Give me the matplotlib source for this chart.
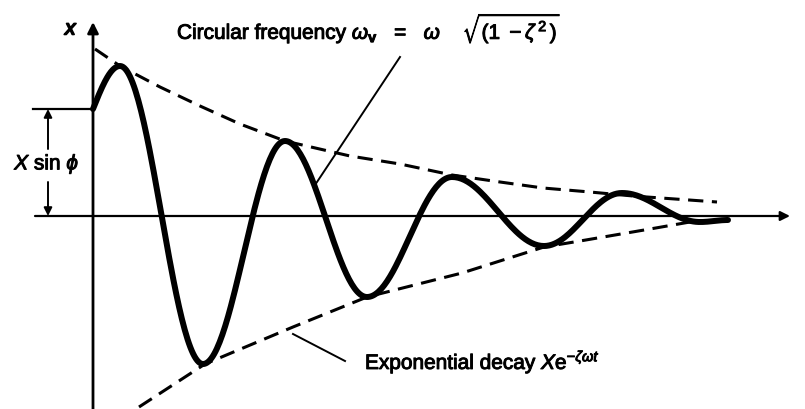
import numpy as np
import matplotlib
matplotlib.use('Agg')
import matplotlib.pyplot as plt
import matplotlib.patheffects as pe

plt.rcParams['font.family'] = ['Liberation Sans', 'DejaVu Sans']
plt.rcParams['mathtext.fontset'] = 'custom'
plt.rcParams['mathtext.rm'] = 'Liberation Sans'
plt.rcParams['mathtext.it'] = 'Liberation Sans:italic'
plt.rcParams['mathtext.bf'] = 'Liberation Sans:bold'

# displacement curve: start value, then alternating peaks and troughs
curve_t = [0.0, 0.27, 1.10, 1.92, 2.74, 3.59, 4.51, 5.29, 6.07, 6.35]
curve_x = [1.07, 1.50, -1.48, 0.75, -0.81, 0.39, -0.30, 0.23, -0.06, -0.04]

# upper and lower decay envelopes
upper_t = [0.02, 0.27, 0.67, 1.07, 1.47, 1.92, 2.57, 3.07, 3.59, 4.07, 4.50, 4.97, 5.40, 6.24]
upper_x = [1.67, 1.50, 1.29, 1.10, 0.92, 0.75, 0.60, 0.52, 0.41, 0.34, 0.28, 0.24, 0.20, 0.14]
lower_t = [0.46, 1.12, 2.00, 2.74, 3.69, 4.51, 4.87, 5.57, 5.97, 6.37]
lower_x = [-1.91, -1.48, -1.11, -0.81, -0.57, -0.31, -0.25, -0.13, -0.06, -0.04]


def smooth_curve(ts, xs, n=60):
    # quarter sine up to the first peak, half cosines between extremes
    out_t, out_x = [], []
    for i in range(len(ts) - 1):
        s = np.linspace(0, 1, n)
        if i == 0:
            w = np.sin(np.pi / 2 * s)
        else:
            w = (1 - np.cos(np.pi * s)) / 2
        out_t.extend(ts[i] + (ts[i + 1] - ts[i]) * s)
        out_x.extend(xs[i] + (xs[i + 1] - xs[i]) * w)
    return np.array(out_t), np.array(out_x)


heavy = [pe.withStroke(linewidth=0.7, foreground='black')]

fig = plt.figure(figsize=(8.05, 4.10), dpi=100)
ax = fig.add_axes([0, 0, 1, 1])
ax.set_xlim(-0.93, 7.12)
ax.set_ylim(-1.93, 2.17)
ax.axis('off')

# axes with arrow heads
ax.annotate('', xy=(6.97, 0), xytext=(-0.58, 0),
            arrowprops=dict(arrowstyle='-|>', lw=1.6, color='black',
                            mutation_scale=14, shrinkA=0, shrinkB=0))
ax.annotate('', xy=(0, 1.94), xytext=(0, -1.95),
            arrowprops=dict(arrowstyle='-|>', lw=2.0, color='black',
                            mutation_scale=16, shrinkA=0, shrinkB=0))
ax.text(-0.21, 1.87, r'$\mathit{x}$', fontsize=15, ha='center', va='center',
        path_effects=[pe.withStroke(linewidth=1.2, foreground='black')])

# envelopes
ax.plot(upper_t, upper_x, color='black', lw=2.2, dashes=(5, 2.8))
ax.plot(lower_t, lower_x, color='black', lw=2.2, dashes=(5, 2.8))

# damped response
ct, cx = smooth_curve(curve_t, curve_x)
ax.plot(ct, cx, color='black', lw=4.3, solid_capstyle='round', solid_joinstyle='round')

# initial displacement marker
x0 = curve_x[0]
ax.plot([-0.60, 0], [x0, x0], color='black', lw=1.6)
ax.annotate('', xy=(-0.45, x0), xytext=(-0.45, 0.67),
            arrowprops=dict(arrowstyle='-|>', lw=1.4, color='black',
                            mutation_scale=12, shrinkA=0, shrinkB=0))
ax.annotate('', xy=(-0.45, 0), xytext=(-0.45, 0.34),
            arrowprops=dict(arrowstyle='-|>', lw=1.4, color='black',
                            mutation_scale=12, shrinkA=0, shrinkB=0))
ax.text(-0.46, 0.52, r'$X$ sin $\phi$', fontsize=15, ha='center', va='center',
        path_effects=heavy)

# labels with leader lines
ax.text(0.84, 1.77,
        r'Circular frequency $\omega_\mathbf{v}$   =   $\omega$    '
        r'$\sqrt{(1\ -\zeta^{\,2}\,)}$',
        fontsize=15, ha='left', va='baseline', path_effects=heavy)
ax.plot([3.07, 2.22], [1.59, 0.31], color='black', lw=1.4)

ax.text(2.72, -1.53, r'Exponential decay $X$e$^{-\zeta\omega t}$',
        fontsize=15, ha='left', va='baseline', path_effects=heavy)
ax.plot([2.00, 2.52], [-1.18, -1.45], color='black', lw=1.4)

fig.savefig('out.png', dpi=100)
